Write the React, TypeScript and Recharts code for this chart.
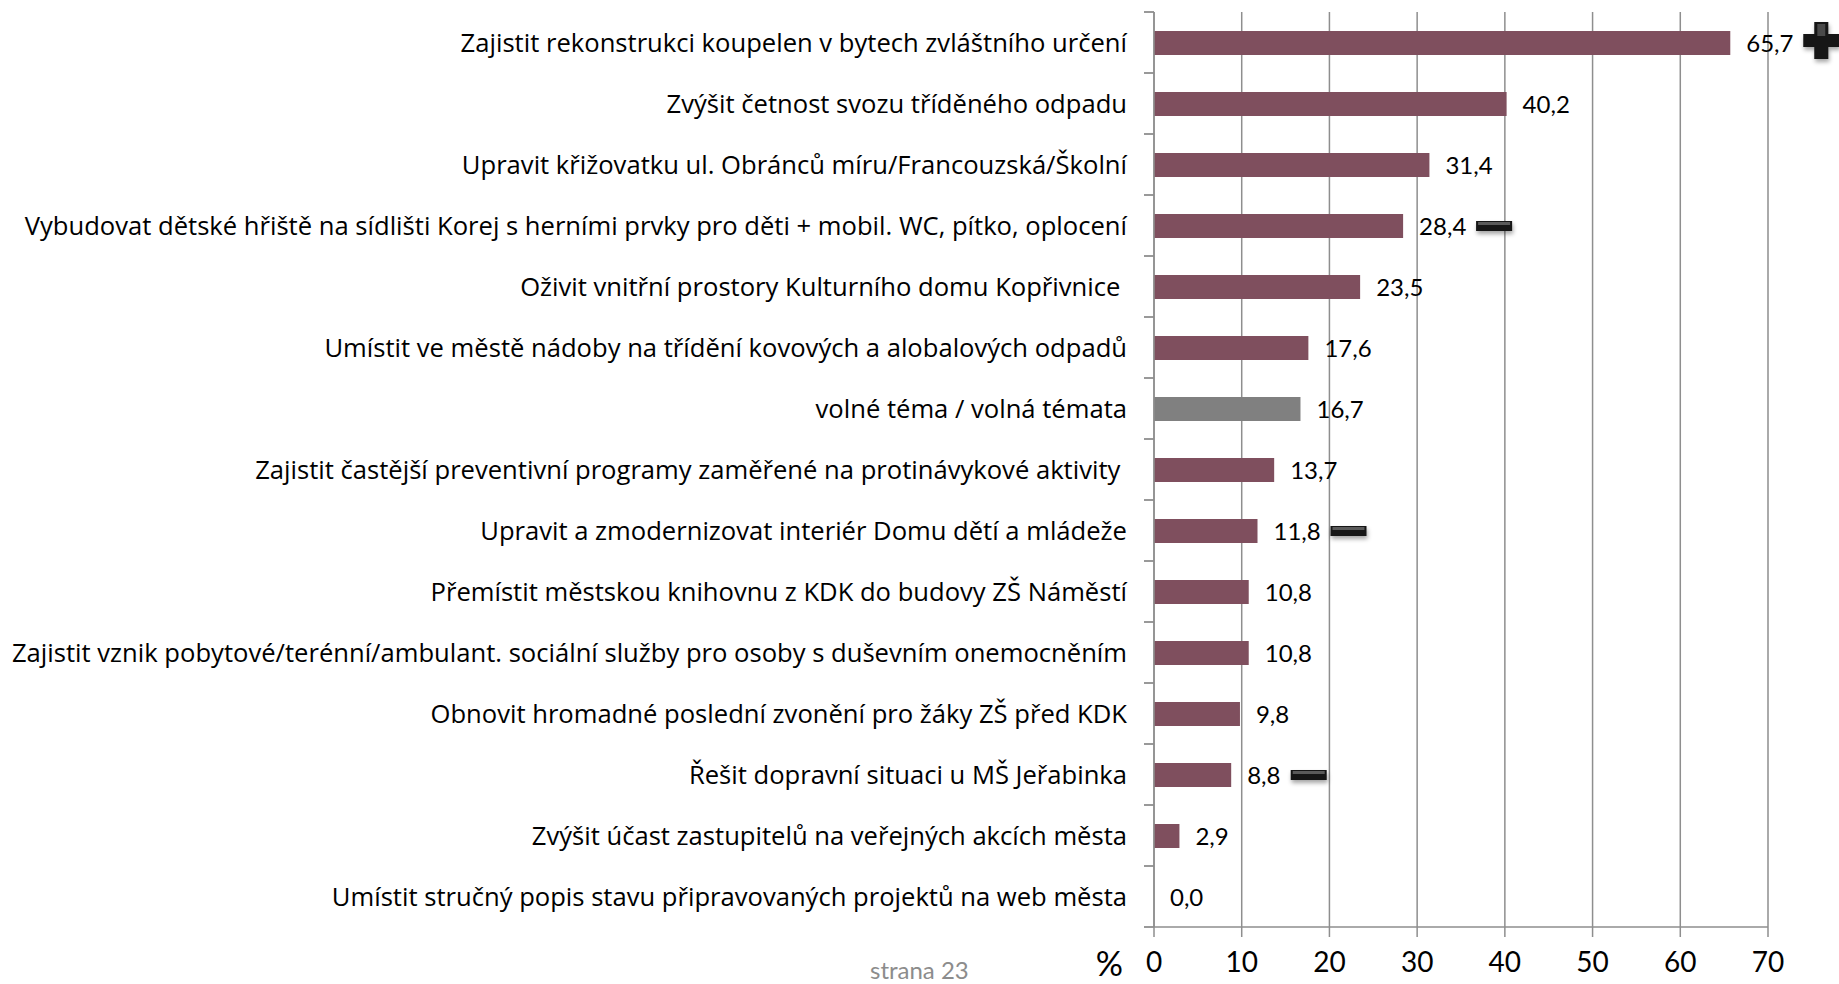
import React from "react"
import {
    BarChart,
    Bar,
    XAxis,
    YAxis,
    CartesianGrid,
    Cell,
    LabelList,
} from "recharts"

const categories = [
    "Zajistit rekonstrukci koupelen v bytech zvláštního určení",
    "Zvýšit četnost svozu tříděného odpadu",
    "Upravit křižovatku ul. Obránců míru/Francouzská/Školní",
    "Vybudovat dětské hřiště na sídlišti Korej s herními prvky pro děti + mobil. WC, pítko, oplocení",
    "Oživit vnitřní prostory Kulturního domu Kopřivnice\u00a0",
    "Umístit ve městě nádoby na třídění kovových a alobalových odpadů",
    "volné téma / volná témata",
    "Zajistit častější preventivní programy zaměřené na protinávykové aktivity\u00a0",
    "Upravit a zmodernizovat interiér Domu dětí a mládeže",
    "Přemístit městskou knihovnu z KDK do budovy ZŠ Náměstí",
    "Zajistit vznik pobytové/terénní/ambulant. sociální služby pro osoby s duševním onemocněním",
    "Obnovit hromadné poslední zvonění pro žáky ZŠ před KDK",
    "Řešit dopravní situaci u MŠ Jeřabinka",
    "Zvýšit účast zastupitelů na veřejných akcích města",
    "Umístit stručný popis stavu připravovaných projektů na web města",
]

const values = [65.7, 40.2, 31.4, 28.4, 23.5, 17.6, 16.7, 13.7, 11.8, 10.8, 10.8, 9.8, 8.8, 2.9, 0.0]

// "+" / "-" marker shown after the value, "" = none
const trends = ["+", "", "", "-", "", "", "", "", "-", "", "", "", "-", "", ""]

// the free-topic row is drawn in grey
const barColors = categories.map((c) =>
    c.startsWith("volné") ? "#808080" : "#7f4f5e"
)

const xTicks = [0, 10, 20, 30, 40, 50, 60, 70]

const data = categories.map((name, i) => ({ name, value: values[i], trend: trends[i] }))

const FONT = "Lato, 'Open Sans', sans-serif"
const LABEL_FONT = "'Open Sans', sans-serif"
const GRID = "#8e8e8e"
const TICK_MARGIN = 27

const W = 1839
const H = 984
const MARGIN = { top: 12, right: 71, bottom: 0, left: 0 }
const X_AXIS_H = 57
// half the height of one category band
const BAND_HALF = (H - MARGIN.top - MARGIN.bottom - X_AXIS_H) / categories.length / 2

const fmt = (v: number) => v.toFixed(1).replace(".", ",")

// rough text width of a value label at 24px
const labelWidth = (s: string) =>
    s.split("").reduce((w, ch) => w + (ch === "," ? 5.5 : 13.5), 0)

// category label + tick marks on the band edges
function CategoryTick(props: any) {
    const { x, y, payload, index } = props
    const lx = x + TICK_MARGIN
    const last = index === categories.length - 1
    return (
        <g>
            <path
                d={`M${lx - 10},${y - BAND_HALF}H${lx}`}
                stroke={GRID}
                strokeWidth={1.8}
                fill="none"
            />
            {last && (
                <path
                    d={`M${lx - 10},${y + BAND_HALF}H${lx}`}
                    stroke={GRID}
                    strokeWidth={1.8}
                    fill="none"
                />
            )}
            <text
                x={x}
                y={y}
                dy="0.36em"
                textAnchor="end"
                fontSize={25.6}
                fontFamily={LABEL_FONT}
                fill="#000"
            >
                {payload.value}
            </text>
        </g>
    )
}

function ValueLabel(props: any) {
    const { x, y, width, height, value, index } = props
    const text = fmt(Number(value))
    const tx = x + width + 16
    const cy = y + height / 2
    const trend = trends[index]
    const ix = tx + labelWidth(text) + 11
    return (
        <g>
            <text
                x={tx}
                y={cy}
                dy="0.36em"
                fontSize={24}
                fontFamily={FONT}
                fill="#000"
            >
                {text}
            </text>
            {trend === "-" && (
                <g filter="url(#iconShadow)">
                    <rect x={ix} y={cy - 5} width={36} height={10} fill="#141414" />
                    <rect x={ix + 2} y={cy - 4} width={32} height={3} fill="#5a5a5a" />
                </g>
            )}
            {trend === "+" && (
                <g filter="url(#iconShadow)">
                    <path
                        d={`M${ix + 11},${cy - 21} h14 v12 h11 v13 h-11 v12 h-14 v-12 h-11 v-13 h11 z`}
                        fill="#141414"
                    />
                    <path
                        d={`M${ix + 14},${cy - 19} h8 v12 h-8 z`}
                        fill="#4a4a4a"
                    />
                </g>
            )}
        </g>
    )
}

export default function App() {
    return (
        <div
            style={{
                position: "fixed",
                left: 0,
                top: 0,
                width: W,
                height: H,
                overflow: "hidden",
                background: "#fff",
                fontFamily: FONT,
            }}
        >
            <BarChart
                width={W}
                height={H}
                data={data}
                layout="vertical"
                margin={MARGIN}
            >
                <defs>
                    <filter id="iconShadow" x="-30%" y="-60%" width="160%" height="260%">
                        <feDropShadow dx="1" dy="3" stdDeviation="2" floodColor="#000" floodOpacity="0.35" />
                    </filter>
                </defs>

                <CartesianGrid horizontal={false} stroke={GRID} strokeWidth={1.5} />

                <XAxis
                    type="number"
                    domain={[0, 70]}
                    ticks={xTicks}
                    height={X_AXIS_H}
                    stroke={GRID}
                    strokeWidth={1.5}
                    tickSize={10}
                    tickMargin={15}
                    tick={{ fontSize: 28, fill: "#000", fontFamily: FONT }}
                    label={{
                        value: "%",
                        position: "left",
                        offset: 31,
                        dy: 8,
                        fontSize: 34,
                        fill: "#000",
                        fontFamily: FONT,
                    }}
                />

                <YAxis
                    type="category"
                    dataKey="name"
                    width={1154}
                    stroke={GRID}
                    strokeWidth={1.5}
                    tickLine={false}
                    tickSize={0}
                    tickMargin={TICK_MARGIN}
                    interval={0}
                    tick={<CategoryTick />}
                />

                <Bar
                    dataKey="value"
                    barSize={24}
                    minPointSize={0.01}
                    isAnimationActive={false}
                >
                    {data.map((d, i) => (
                        <Cell key={d.name} fill={barColors[i]} />
                    ))}
                    <LabelList dataKey="value" content={<ValueLabel />} />
                </Bar>
            </BarChart>

            <div
                style={{
                    position: "absolute",
                    left: 870,
                    top: 958,
                    fontSize: 24,
                    lineHeight: "24px",
                    color: "#8c8c8c",
                    whiteSpace: "nowrap",
                }}
            >
                strana 23
            </div>
        </div>
    )
}
